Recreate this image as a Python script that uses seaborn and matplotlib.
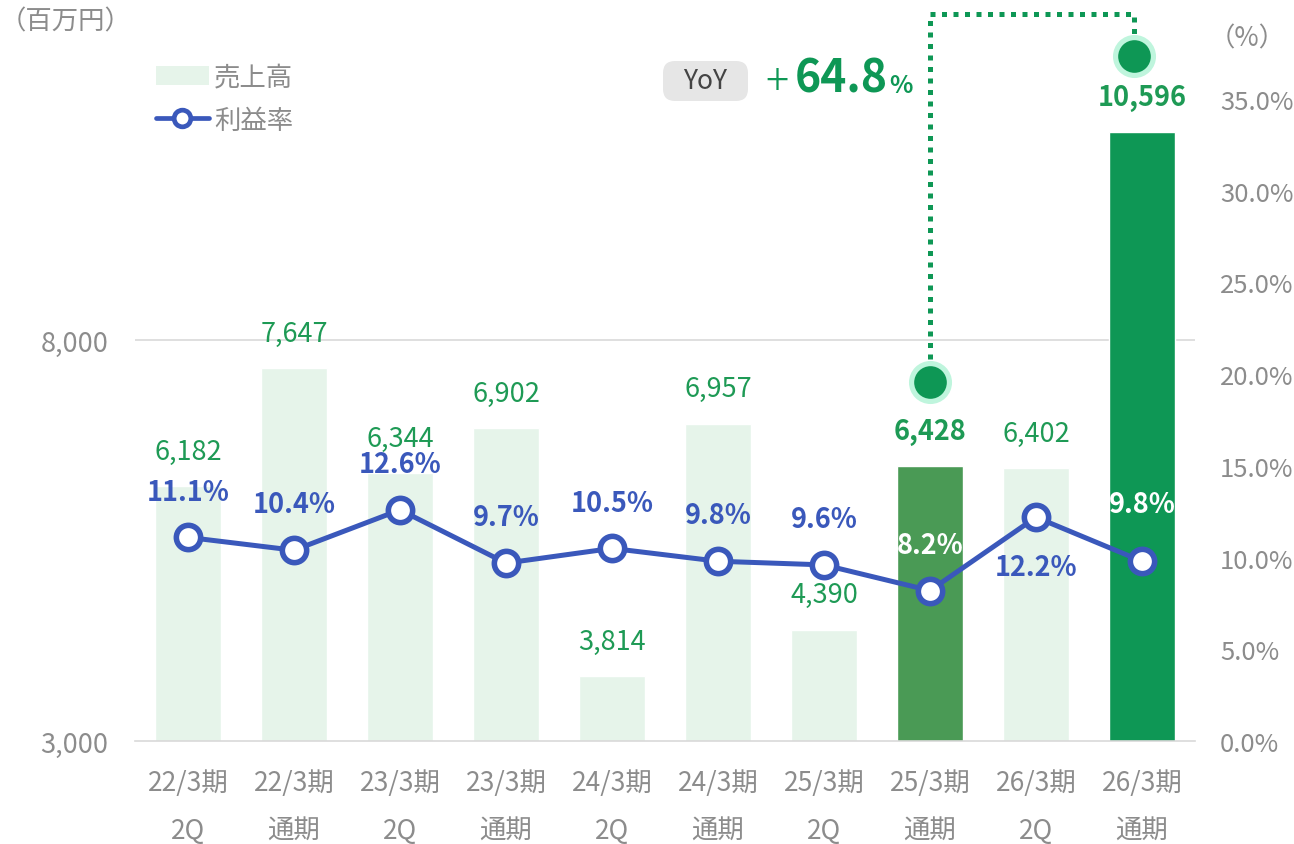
import numpy as np
import pandas as pd
import matplotlib
matplotlib.use('Agg')
import matplotlib.pyplot as plt
import seaborn as sns
from matplotlib.patches import Patch, FancyBboxPatch
from matplotlib.lines import Line2D
from matplotlib.transforms import Affine2D

# データ
periods = ['22/3期\n2Q', '22/3期\n通期', '23/3期\n2Q', '23/3期\n通期', '24/3期\n2Q',
           '24/3期\n通期', '25/3期\n2Q', '25/3期\n通期', '26/3期\n2Q', '26/3期\n通期']
sales = [6182, 7647, 6344, 6902, 3814, 6957, 4390, 6428, 6402, 10596]
margin = [11.1, 10.4, 12.6, 9.7, 10.5, 9.8, 9.6, 8.2, 12.2, 9.8]
left_ticks = [3000, 8000]
right_ticks = [0, 5, 10, 15, 20, 25, 30, 35]
yoy_value = '64.8'

# 色
PALE = '#E6F4EA'
MID_GREEN = '#4A9A55'
DARK_GREEN = '#0E9755'
LABEL_GREEN = '#1E9A55'
BLUE = '#3A58BB'
GRAY = '#8C8C8C'

sns.set_style('white')
plt.rcParams['font.family'] = ['Noto Sans CJK JP', 'DejaVu Sans']

W, H = 1294, 845
fig = plt.figure(figsize=(W / 100, H / 100), dpi=100)
# 軸の位置 (px): 左135, 右1195, 上20, 下742
ax = fig.add_axes([135 / W, (H - 742) / H, (1195 - 135) / W, (742 - 20) / H])

bar_colors = [PALE] * len(sales)
bar_colors[7] = MID_GREEN
bar_colors[9] = DARK_GREEN

df = pd.DataFrame({'period': periods, 'sales': sales, 'margin': margin})
sns.barplot(data=df, x='period', y='sales', hue='period', palette=bar_colors,
            legend=False, width=0.63, saturation=1, ax=ax, zorder=2)

y0, y1 = 3000, 12002
ax.set_ylim(y0, y1)
ax.set_xlim(-0.5, 9.5)
ax.set_yticks(left_ticks)
ax.set_yticklabels([f'{v:,}' for v in left_ticks])
ax.set_xlabel('')
ax.set_ylabel('')
ax.tick_params(axis='y', length=0, pad=19, labelsize=19.5, labelcolor=GRAY)
ax.tick_params(axis='x', length=0, pad=20, labelsize=19, labelcolor=GRAY)
for lab in ax.get_xticklabels():
    lab.set_linespacing(2.0)
for s in ['top', 'left', 'right']:
    ax.spines[s].set_visible(False)
ax.spines['bottom'].set_color('#D9D9D9')
ax.spines['bottom'].set_linewidth(1.2)
ax.axhline(8000, color='#D9D9D9', lw=1.2, zorder=0.5)

# 売上高ラベル
for i, v in enumerate(sales):
    bold = i in (7, 9)
    ax.annotate(f'{v:,}', (i, v), xytext=(0, 25), textcoords='offset points',
                ha='center', va='center', fontsize=19.5, color=LABEL_GREEN,
                fontweight='bold' if bold else 'normal', zorder=5)

# 利益率
ax2 = ax.twinx()
sns.lineplot(x=np.arange(len(margin)), y=margin, ax=ax2, color=BLUE, lw=3.6,
             marker='o', markersize=17.5, markerfacecolor='white',
             markeredgecolor=BLUE, markeredgewidth=4, zorder=4)
ax2.set_ylim(0, (742 - 20) / 18.343)
ax2.set_yticks(right_ticks)
ax2.set_yticklabels([f'{v:.1f}%' for v in right_ticks])
ax2.tick_params(axis='y', length=0, pad=18, labelsize=18.5, labelcolor=GRAY)
ax2.set_ylabel('')
for s in ['top', 'left', 'right', 'bottom']:
    ax2.spines[s].set_visible(False)

label_offsets = {8: -36, 9: 41}
for i, v in enumerate(margin):
    dy = label_offsets.get(i, 33)
    col = 'white' if i in (7, 9) else BLUE
    ax2.annotate(f'{v:.1f}%', (i, v), xytext=(0, dy), textcoords='offset points',
                 ha='center', va='center', fontsize=19.5, fontweight='bold',
                 color=col, zorder=6)

# YoY 強調 (点線と丸)
px = (y1 - y0) / (742 - 20)
x_a, y_a = 7, sales[7] + 84 * px
x_b, y_b = 9 - 8 / 105.78, sales[9] + 76 * px
y_top = y0 + (742 - 15) * px
ax.plot([x_a, x_a, x_b, x_b], [y_a, y_top, y_top, y_b], color=DARK_GREEN,
        lw=3.6, ls=(0, (1, 1.3)), dash_capstyle='butt', clip_on=False, zorder=7)
for xx, yy in [(x_a, y_a), (x_b, y_b)]:
    ax.plot(xx, yy, 'o', ms=31, color='#BFF5DD', mec='none', clip_on=False, zorder=8)
    ax.plot(xx, yy, 'o', ms=23.5, color=DARK_GREEN, mec='none', clip_on=False, zorder=9)

# 画面座標 (上から px)
top_px = Affine2D().scale(1, -1).translate(0, H)

box = FancyBboxPatch((663, 62), 85, 40, boxstyle='round,pad=0,rounding_size=12',
                     transform=top_px, fc='#E6E6E6', ec='none')
fig.patches.append(box)
fig.text(705.5, 82, 'YoY', transform=top_px, ha='center', va='center',
         fontsize=19, color='#444444')
fig.text(765, 95, '+', transform=top_px, ha='left', va='baseline',
         fontsize=31, fontweight='light', color=DARK_GREEN)
fig.text(795, 93, yoy_value, transform=top_px, ha='left', va='baseline',
         fontsize=32, fontweight='bold', color=DARK_GREEN)
fig.text(889, 93, '%', transform=top_px, ha='left', va='baseline',
         fontsize=17.5, fontweight='bold', color=DARK_GREEN)

# 単位
fig.text(0, 22, '（百万円）', transform=top_px, ha='left', va='center',
         fontsize=19, color=GRAY)
fig.text(1209, 39, '（%）', transform=top_px, ha='left', va='center',
         fontsize=19, color=GRAY)

# 凡例
handles = [Patch(facecolor=PALE, edgecolor='none'),
           Line2D([0], [0], color=BLUE, lw=3.4, marker='o', markersize=12,
                  markerfacecolor='white', markeredgecolor=BLUE, markeredgewidth=3.4)]
leg = fig.legend(handles, ['売上高', '利益率'], loc='upper left',
                 bbox_to_anchor=(132 / W, 1 - 41 / H), frameon=False,
                 fontsize=19, labelcolor=GRAY, handlelength=2.0,
                 handleheight=0.7, handletextpad=0.2, labelspacing=0.6)

fig.savefig('out.png', dpi=100)
